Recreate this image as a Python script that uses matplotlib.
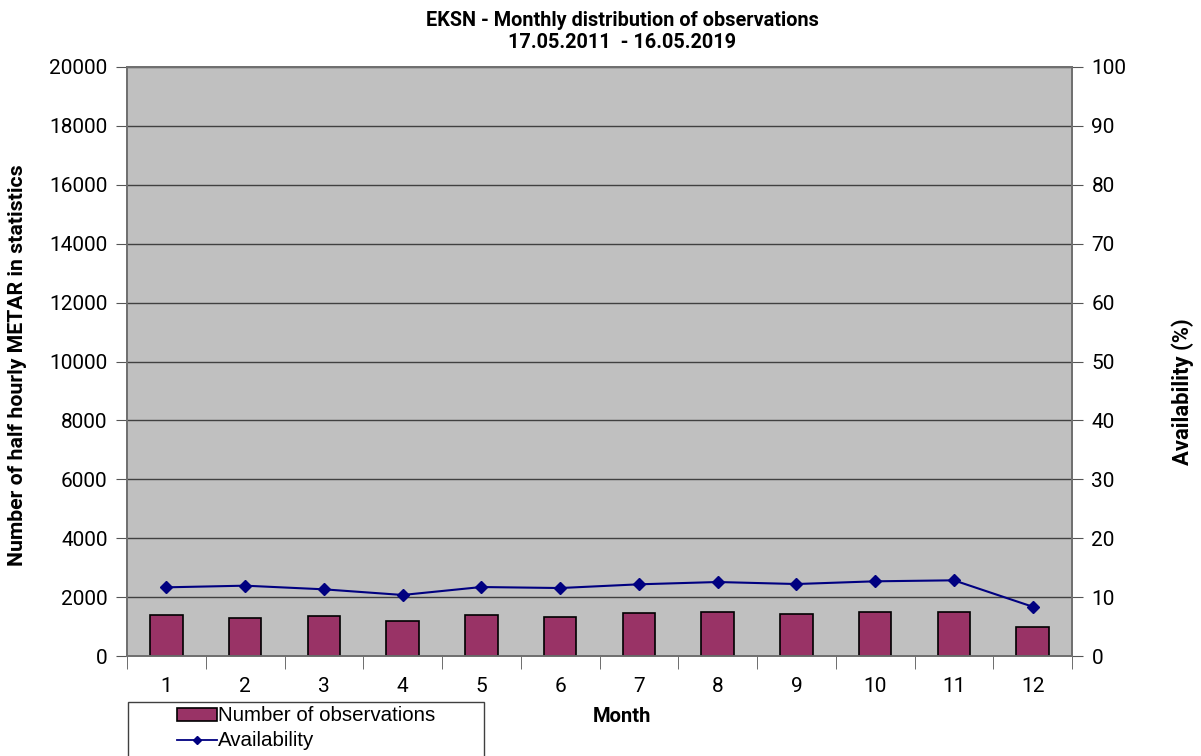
import matplotlib.pyplot as plt
import numpy as np
from matplotlib.patches import Rectangle
from matplotlib.lines import Line2D

months = [str(m) for m in range(1, 13)]
observations = [1392, 1302, 1358, 1188, 1392, 1324, 1449, 1505, 1426, 1505, 1483, 985]
availability = [11.66, 11.94, 11.32, 10.36, 11.71, 11.54, 12.17, 12.56, 12.22, 12.68, 12.85, 8.37]

plt.rcParams['font.family'] = ['Roboto', 'DejaVu Sans']

W, H = 1201, 756
fig = plt.figure(figsize=(W / 100, H / 100), dpi=100)
ax = fig.add_axes([127 / W, 1 - 656 / H, (1072 - 127) / W, (656 - 67) / H])
ax.set_facecolor('#C0C0C0')

x = np.arange(len(months))
ax.bar(x, observations, width=0.41, color='#993366', edgecolor='black',
       linewidth=1.2, zorder=3)
ax.set_ylim(0, 20000)
ax.set_yticks(np.arange(0, 20001, 2000))
ax.set_xlim(-0.5, 11.5)
ax.set_xticks(x)
ax.set_xticklabels(months)
ax.set_xticks(np.arange(-0.5, 12, 1), minor=True)
ax.tick_params(axis='x', which='major', length=0, pad=15, labelsize=15)
ax.tick_params(axis='x', which='minor', length=9, direction='out', color='#555555')
ax.tick_params(axis='y', length=8, color='#555555', labelsize=15, pad=6)
ax.yaxis.grid(True, color='#404040', linewidth=1)
ax.set_axisbelow(True)
for s in ax.spines.values():
    s.set_color('#707070')
    s.set_linewidth(1.3)

ax2 = ax.twinx()
ax2.plot(x, availability, color='#000080', marker='D', markersize=6,
         linewidth=1.5, zorder=4)
ax2.set_ylim(0, 100)
ax2.set_yticks(np.arange(0, 101, 10))
ax2.tick_params(axis='y', length=8, color='#555555', labelsize=15, pad=6)
for s in ax2.spines.values():
    s.set_color('#707070')
    s.set_linewidth(1.3)

fig.text(622 / W, 1 - 31 / H, 'EKSN - Monthly distribution of observations\n17.05.2011  - 16.05.2019',
         ha='center', va='center', fontsize=14.3, fontweight='bold', linespacing=1.2)
fig.text(18 / W, 1 - 365 / H, 'Number of half hourly METAR in statistics', rotation=90,
         ha='center', va='center', fontsize=15.3, fontweight='bold')
fig.text(1183 / W, 1 - 392 / H, 'Availability (%)', rotation=90,
         ha='center', va='center', fontsize=15.8, fontweight='bold')
fig.text(622 / W, 1 - 717 / H, 'Month', ha='center', va='center',
         fontsize=14.5, fontweight='bold')

# legend box, cut by the bottom edge
fig.patches.append(Rectangle((128 / W, -0.05), (484 - 128) / W, 0.05 + 1 - 702 / H,
                             transform=fig.transFigure, facecolor='white',
                             edgecolor='#404040', linewidth=1))
bar_key = Rectangle((0, 0), 1, 1, facecolor='#993366', edgecolor='black', linewidth=1.2)
line_key = Line2D([], [], color='#000080', marker='D', markersize=4, linewidth=1.3)
fig.legend([bar_key, line_key], ['Number of observations', 'Availability'],
           loc='upper center', bbox_to_anchor=((128 + 484) / 2 / W, 1 - 696 / H),
           frameon=False, prop={'family': 'Liberation Sans', 'size': 14.8},
           handlelength=1.95, handleheight=0.6, handletextpad=0.05,
           labelspacing=0.3, borderpad=0.0)

fig.savefig('out.png', dpi=100)
